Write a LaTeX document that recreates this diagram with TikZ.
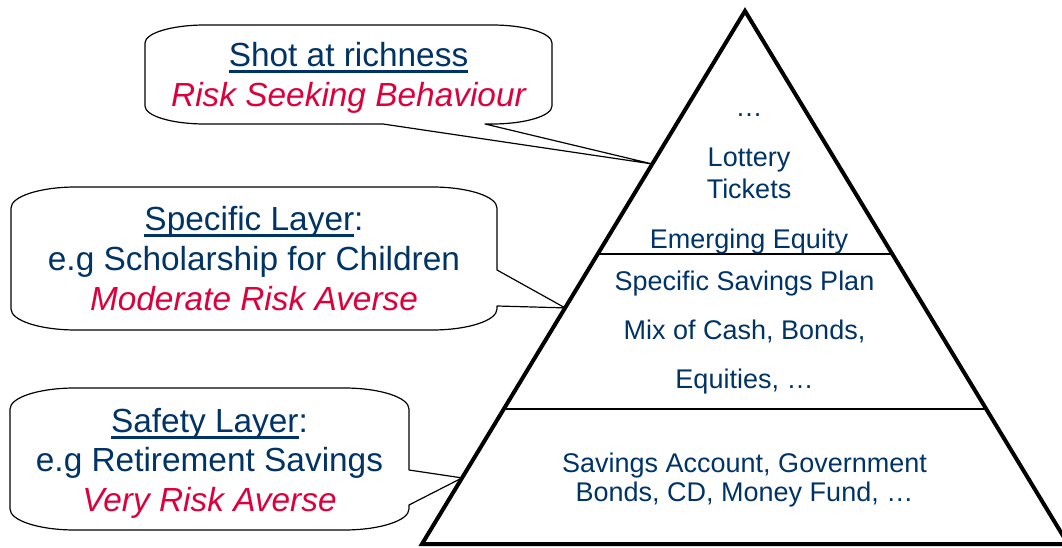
\documentclass[tikz,border=0pt]{standalone}
\usepackage{fontspec}
\setmainfont{Liberation Sans}
\usetikzlibrary{calc}
\definecolor{txtblue}{RGB}{0,51,102}
\definecolor{txtred}{RGB}{220,0,60}
\newcommand{\myul}[1]{\setbox0\hbox{#1}\rlap{\rule[-0.17em]{\wd0}{0.07em}}\box0}
\begin{document}
\begin{tikzpicture}[x=1pt,y=-1pt,
  bigtxt/.style={font=\fontsize{33.4}{40}\selectfont, text=txtblue, inner sep=0pt, text height=23.9pt, text depth=0pt, anchor=center},
  redtxt/.style={bigtxt, text=txtred, font=\fontsize{33.4}{40}\selectfont\itshape},
  pyrtxt/.style={font=\fontsize{27}{32}\selectfont, text=txtblue, inner sep=0pt, text height=19.3pt, text depth=0pt, anchor=center},
  callout/.style={draw=black, line width=1.2pt, fill=white, line join=round},
  pyr/.style={draw=black, line width=4pt, line join=miter},
  divider/.style={draw=black, line width=1.6pt}]
\useasboundingbox (0,0) rectangle (1062,548);
\fill[white] (0,0) rectangle (1062,548);
% pyramid
\coordinate (apex) at (745,11);
\coordinate (bl) at (422,544);
\coordinate (br) at (1068,544);
\coordinate (d1l) at ($(apex)!0.456!(bl)$);
\coordinate (d1r) at ($(apex)!0.456!(br)$);
\coordinate (d2l) at ($(apex)!0.7467!(bl)$);
\coordinate (d2r) at ($(apex)!0.7467!(br)$);
\draw[divider] (d1l) -- (d1r);
\draw[divider] (d2l) -- (d2r);
\draw[pyr] (apex) -- (bl) -- (br) -- cycle;
% pointer tips on the pyramid
\coordinate (t1) at ($(apex)!0.287!(bl)$);
\coordinate (t2) at ($(apex)!0.557!(bl)$);
\coordinate (t3) at ($(apex)!0.876!(bl)$);
% callout 1
\draw[callout] (205,25) -- (492,25)
  arc[start angle=-90, end angle=0, x radius=60, y radius=18] -- (552,106)
  arc[start angle=0, end angle=90, x radius=60, y radius=18] -- (485,124) -- (t1) -- (383,124) -- (205,124)
  arc[start angle=90, end angle=180, x radius=60, y radius=18] -- (145,43)
  arc[start angle=180, end angle=270, x radius=60, y radius=18] -- cycle;
% callout 2
\draw[callout] (76,187) -- (432,187)
  arc[start angle=-90, end angle=0, x radius=65, y radius=21] -- (497,270) -- (t2) -- (497,306) -- (497,309)
  arc[start angle=0, end angle=90, x radius=65, y radius=21] -- (76,330)
  arc[start angle=90, end angle=180, x radius=65, y radius=21] -- (11,208)
  arc[start angle=180, end angle=270, x radius=65, y radius=21] -- cycle;
% callout 3
\draw[callout] (75,388) -- (344,388)
  arc[start angle=-90, end angle=0, x radius=65, y radius=21] -- (409,470) -- (t3) -- (409,505) -- (409,509)
  arc[start angle=0, end angle=90, x radius=65, y radius=21] -- (75,530)
  arc[start angle=90, end angle=180, x radius=65, y radius=21] -- (10,409)
  arc[start angle=180, end angle=270, x radius=65, y radius=21] -- cycle;
% callout texts
\node[bigtxt] (c1a) at (348.5,55) {\myul{Shot at richness}};
\node[redtxt] (c1b) at (348.5,95) {Risk Seeking Behaviour};
\node[bigtxt] (c2a) at (254,219) {\myul{Specific Layer}:};
\node[bigtxt] (c2b) at (254,259) {e.g Scholarship for Children};
\node[redtxt] (c2c) at (254,299) {Moderate Risk Averse};
\node[bigtxt] (c3a) at (209.5,421) {\myul{Safety Layer}:};
\node[bigtxt] (c3b) at (209.5,460) {e.g Retirement Savings};
\node[redtxt] (c3c) at (209.5,500) {Very Risk Averse};
% pyramid texts
\node[pyrtxt] (p1) at (749,106.4) {…};
\node[pyrtxt] (p2) at (749,156.5) {Lottery};
\node[pyrtxt] (p3) at (749,189) {Tickets};
\node[pyrtxt] (p4) at (749,238.5) {Emerging Equity};
\node[pyrtxt] (p5) at (744.5,281) {Specific Savings Plan};
\node[pyrtxt] (p6) at (744.5,330) {Mix of Cash, Bonds,};
\node[pyrtxt] (p7) at (744.5,379) {Equities, …};
\node[pyrtxt] (p8) at (744.5,463) {Savings Account, Government};
\node[pyrtxt] (p9) at (744.5,492) {Bonds, CD, Money Fund, …};
\end{tikzpicture}
\end{document}
